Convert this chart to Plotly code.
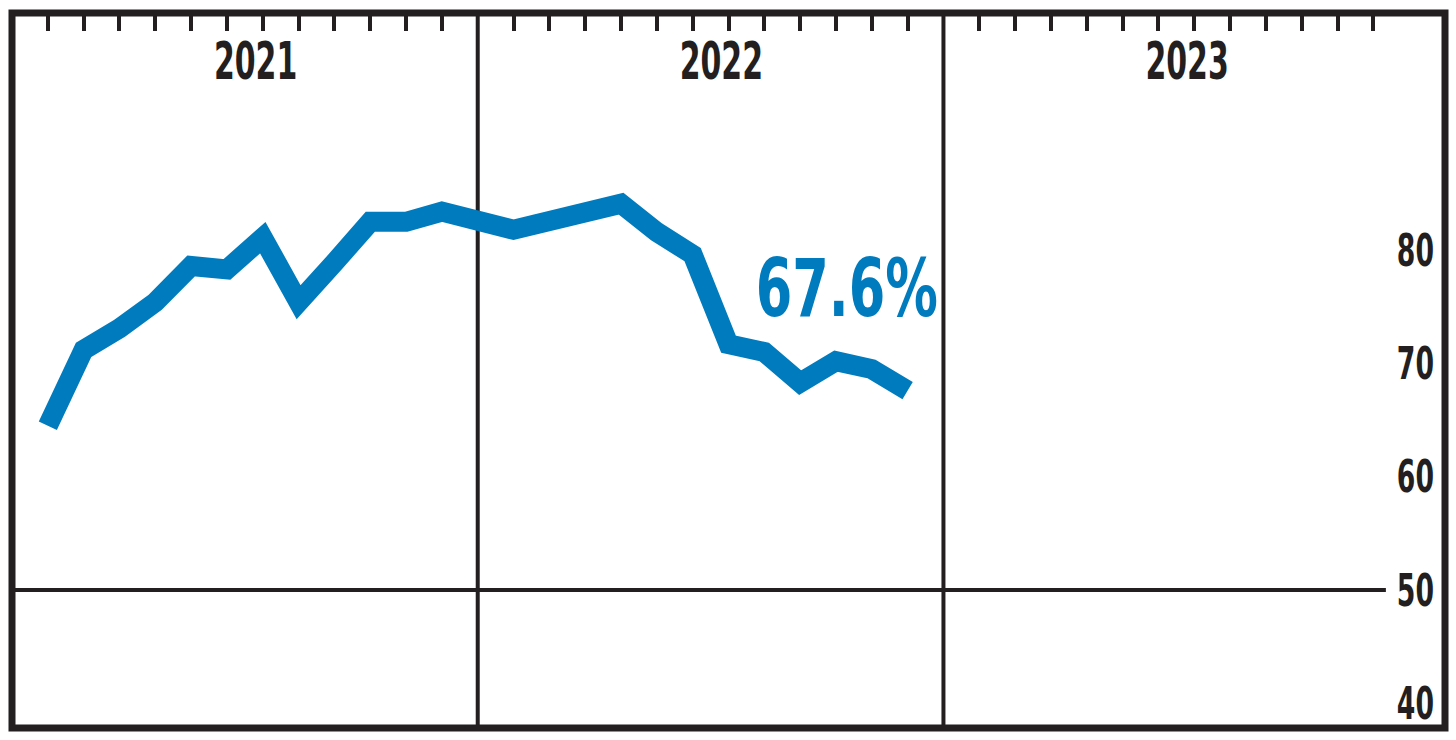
import plotly.graph_objects as go

# ---- data ----
years = ["2021", "2022", "2023"]
month_labels = [f"{y}-{m:02d}" for y in (2021, 2022) for m in range(1, 13)]
rate = [64.5, 71.2, 73.1, 75.4, 78.6, 78.3, 81.1, 75.4, 78.9, 82.5, 82.5, 83.4,
        81.8, 82.6, 83.3, 84.1, 81.6, 79.6, 71.7, 71.0, 68.3, 70.2, 69.5, 67.6]
y_ticks = [40, 50, 60, 70, 80]
callout = "67.6%"

# ---- scale helpers: each year occupies 13 slots (12 months + separator) ----
SLOTS = 13
def slot(year_idx, month_idx):
    return year_idx * SLOTS + month_idx + 1

x_vals = [slot(i // 12, i % 12) for i in range(len(rate))]
month_ticks = [slot(yi, mi) for yi in range(len(years)) for mi in range(12)]
year_centers = [yi * SLOTS + 6.8 for yi in range(len(years))]
year_bounds = [yi * SLOTS for yi in range(1, len(years))]

INK = "#231f20"
BLUE = "#007bbd"
FONT = "DejaVu Sans Condensed, Liberation Sans Narrow, Arial Narrow, sans-serif"

fig = go.Figure()
fig.add_trace(go.Scatter(
    x=x_vals, y=rate, mode="lines",
    line=dict(color=BLUE, width=20),
    hoverinfo="skip", showlegend=False, customdata=month_labels,
))

fig.update_layout(
    width=1456, height=740,
    margin=dict(l=12, r=11, t=13, b=12),
    paper_bgcolor="white", plot_bgcolor="white",
    xaxis=dict(
        range=[0, 40], side="top", showgrid=False, zeroline=False, showline=False,
        tickvals=year_centers, ticktext=years, ticks="",
        ticklabelposition="inside", ticklabelstandoff=27, ticklabeloverflow="allow",
        tickfont=dict(family=FONT, size=52, color=INK, weight="bold"),
        minor=dict(tickvals=month_ticks, ticks="inside", ticklen=18,
                   tickwidth=4, tickcolor=INK, showgrid=False),
    ),
    yaxis=dict(
        range=[37.82, 100.93], side="right", showgrid=False, zeroline=False,
        showline=False, tickvals=y_ticks, ticks="",
        ticklabelposition="inside", ticklabelstandoff=8, ticklabeloverflow="allow",
        tickfont=dict(family=FONT, size=45, color=INK, weight="bold"),
    ),
    shapes=[
        *[dict(type="line", xref="x", yref="paper", x0=b, x1=b, y0=0, y1=1,
               line=dict(color=INK, width=4), layer="below") for b in year_bounds],
        dict(type="line", xref="x", yref="y", x0=0, x1=38.35, y0=50, y1=50,
             line=dict(color=INK, width=4), layer="below"),
        dict(type="rect", xref="paper", yref="paper", x0=0, x1=1, y0=0, y1=1,
             line=dict(color=INK, width=7), layer="above"),
    ],
    annotations=[dict(
        x=23.3, y=76.6, xref="x", yref="y", text=callout, showarrow=False,
        font=dict(family=FONT, size=80, color=BLUE, weight="bold"),
        xanchor="center", yanchor="middle",
    )],
)

# condense the real SVG text horizontally (the reference uses a compressed face)
post = """
document.body.style.margin='0';
document.body.style.overflow='hidden';
(function(){
  var gd = document.getElementById('{plot_id}');
  function cond(sel, k){
    gd.querySelectorAll(sel).forEach(function(t){
      var cur = t.getAttribute('transform') || '';
      if (t.getAttribute('data-scaled') === cur) return;
      var x = parseFloat(t.getAttribute('x') || '0') || 0;
      var nt = cur + ' translate(' + x + ',0) scale(' + k + ',1) translate(' + (-x) + ',0)';
      t.setAttribute('transform', nt);
      t.setAttribute('data-scaled', nt);
    });
  }
  function run(){
    cond('.xtick text', 0.64);
    cond('.ytick text', 0.66);
    cond('.annotation-text', 0.73);
  }
  run();
  if (gd && gd.on) gd.on('plotly_afterplot', run);
})();
"""

fig.write_html("out.html", config={"displayModeBar": False}, post_script=post)
